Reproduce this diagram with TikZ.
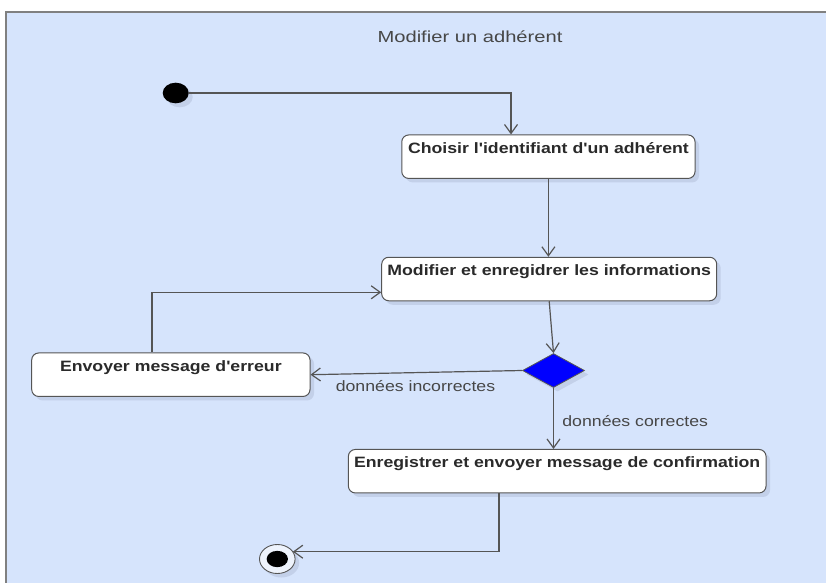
\documentclass[tikz,border=0pt]{standalone}
\usepackage{fontspec}
\setmainfont{Liberation Sans}
\usetikzlibrary{arrows.meta,shapes.geometric,shadows,calc}
\definecolor{bgc}{HTML}{D6E4FC}
\definecolor{shc}{HTML}{C3D0E9}
\definecolor{linec}{HTML}{555555}
\definecolor{framec}{HTML}{808080}
\definecolor{txtc}{HTML}{2A2A2A}
\definecolor{lblc}{HTML}{474747}
\definecolor{ringc}{HTML}{EEF3FC}
\newcommand{\hs}[1]{\scalebox{1.18}[1]{#1}}
\newcommand{\ap}{\textquotesingle}
\begin{document}
\begin{tikzpicture}[x=1pt,y=-1pt,
 shad/.style={drop shadow={shadow xshift=4pt,shadow yshift=-4pt,fill=shc,opacity=1}},
 actbox/.style={draw=linec,line width=1pt,fill=white,rounded corners=7pt,shad,inner xsep=0pt,inner ysep=0pt,text height=18.5pt,text depth=25pt,font=\fontsize{15}{18}\selectfont\bfseries,text=txtc},
 conn/.style={draw=linec,line width=1.2pt,-{Straight Barb[length=9pt,width=13pt]}},
 lbl/.style={font=\fontsize{15}{18}\selectfont,text=lblc,inner sep=0pt,anchor=base},
]
\useasboundingbox (0,0) rectangle (826,583);
\fill[bgc] (6,12) rectangle (826,583);
\draw[framec,line width=1.5pt] (826,12) -- (6,12) -- (6,583);

\node[font=\fontsize{16}{19}\selectfont,text=lblc,anchor=base,inner sep=0pt] (title) at (470,42.7) {\scalebox{1.26}[1]{Modifier un adhérent}};

\node[ellipse,fill=black,minimum width=26pt,minimum height=20.6pt,inner sep=0pt,shad] (init) at (175.7,93) {};

\node[actbox,minimum width=293.3pt] (choisir) at (548.4,156.7) {\hs{Choisir l\ap identifiant d\ap un adhérent}};
\node[actbox,minimum width=335pt] (modifier) at (549.2,279) {\hs{Modifier et enregidrer les informations}};
\node[actbox,minimum width=278.3pt] (envoyer) at (170.85,374.7) {\hs{Envoyer message d\ap erreur}};
\node[actbox,minimum width=417.7pt] (enreg) at (557.2,471.2) {\hs{Enregistrer et envoyer message de confirmation}};

\node[diamond,draw=linec,line width=0.8pt,fill=blue,minimum width=62pt,minimum height=34pt,inner sep=0pt,shad] (dec) at (553.5,370.5) {};

\node[ellipse,draw=linec,line width=0.9pt,fill=ringc,minimum width=35.6pt,minimum height=29pt,inner sep=0pt,shad] (final) at (277.3,559) {};
\node[ellipse,fill=black,minimum width=21.3pt,minimum height=16.3pt,inner sep=0pt] (findot) at (final.center) {};

\draw[conn] (init.east) -| ([xshift=-37.4pt]choisir.north);
\draw[conn] (choisir.south) -- (choisir.south |- modifier.north);
\draw[conn] (modifier.south) -- (dec.north);
\draw[conn] (dec.west) -- (envoyer.east);
\node[lbl] (lab1) at (415.5,391.7) {\hs{données incorrectes}};
\draw[conn] ([xshift=-18.85pt]envoyer.north) |- ([yshift=-13.3pt]modifier.west);
\draw[conn] (dec.south) -- (dec.south |- enreg.north);
\node[lbl] (lab2) at (635.2,426) {\hs{données correctes}};
\coordinate (finin) at ($(final.center)+(15.5,-7.3)$);
\draw[conn] ([xshift=-58.2pt]enreg.south) |- (finin);
\end{tikzpicture}
\end{document}
